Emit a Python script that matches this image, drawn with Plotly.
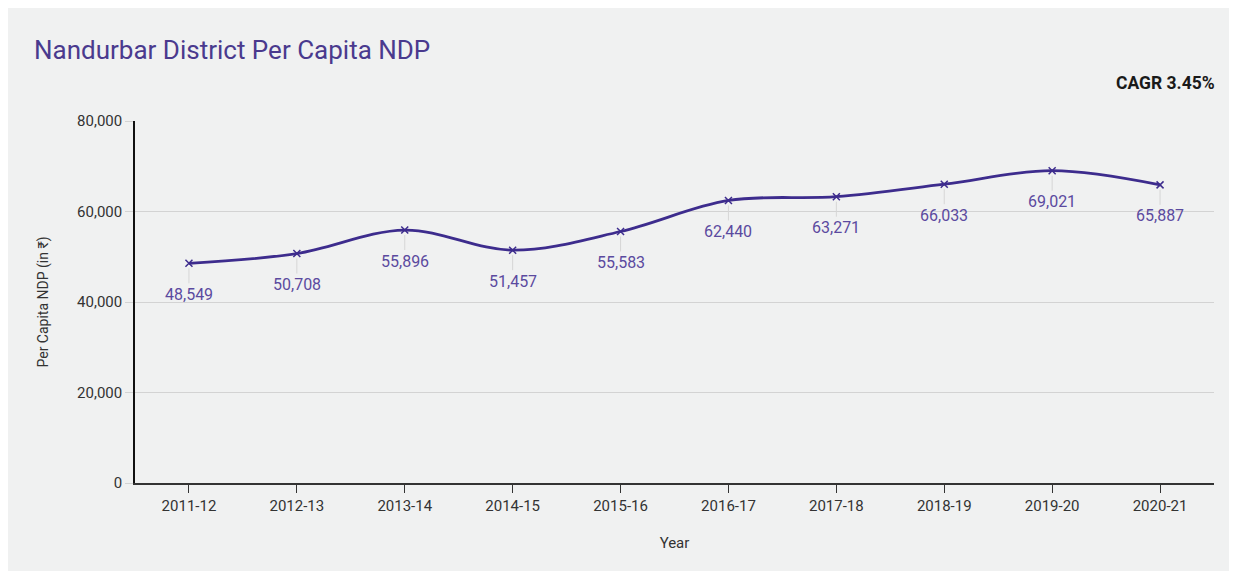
import plotly.graph_objects as go

years = ["2011-12", "2012-13", "2013-14", "2014-15", "2015-16",
         "2016-17", "2017-18", "2018-19", "2019-20", "2020-21"]
ndp = [48549, 50708, 55896, 51457, 55583, 62440, 63271, 66033, 69021, 65887]
y_ticks = [0, 20000, 40000, 60000, 80000]
y_tick_text = ["0", "20,000", "40,000", "60,000", "80,000"]

LINE = "#3d2c8d"
LABEL = "#5b4a9f"
BG = "#f0f1f1"
FONT = "Roboto"

fig = go.Figure()
fig.add_trace(go.Scatter(
    x=years, y=ndp, mode="lines+markers",
    line=dict(color=LINE, width=2.8, shape="spline", smoothing=1.0),
    marker=dict(symbol="x-thin", size=7, line=dict(color=LINE, width=1.5)),
    hoverinfo="skip", showlegend=False,
))

for yr, v in zip(years, ndp):
    fig.add_annotation(
        x=yr, y=v, xref="x", yref="y",
        text=f"{v:,}", showarrow=True, arrowhead=0, arrowwidth=1,
        arrowcolor="#d6d6d6", ax=0, ay=31, standoff=5,
        font=dict(family=FONT, size=16, color=LABEL),
    )

fig.add_annotation(
    text="Nandurbar District Per Capita NDP", xref="paper", yref="paper",
    x=-0.095, y=1.196, xanchor="left", yanchor="middle", showarrow=False,
    font=dict(family=FONT, size=26, color="#4a3a8e"),
)
fig.add_annotation(
    text="<b>CAGR 3.45%</b>", xref="paper", yref="paper",
    x=1.003, y=1.106, xanchor="right", yanchor="middle", showarrow=False,
    font=dict(family=FONT, size=17.5, color="#1a1a1a"),
)

fig.update_layout(
    width=1237, height=571,
    margin=dict(l=127, r=31, t=113, b=96),
    paper_bgcolor=BG, plot_bgcolor=BG,
    font=dict(family=FONT, size=15, color="#333333"),
    xaxis=dict(
        type="category", showgrid=False, showline=True, linecolor="#333333",
        linewidth=1.5, ticks="outside", ticklen=8, tickcolor="#333333",
        tickfont=dict(family=FONT, size=15, color="#333333"),
        title=dict(text="Year", standoff=24,
                   font=dict(family=FONT, size=15, color="#333333")),
        range=[-0.5, 9.5], zeroline=False,
    ),
    yaxis=dict(
        range=[0, 80000], tickvals=y_ticks, ticktext=y_tick_text,
        showgrid=True, gridcolor="#d3d3d3", gridwidth=1,
        showline=True, linecolor="#111111", linewidth=1.6,
        ticks="outside", ticklen=8, tickcolor="#d3d3d3",
        tickfont=dict(family=FONT, size=15, color="#333333"),
        title=dict(text="Per Capita NDP (in ₹)", standoff=25,
                   font=dict(family=FONT, size=14, color="#333333")),
        zeroline=False,
    ),
)

fig.write_html("out.html")
